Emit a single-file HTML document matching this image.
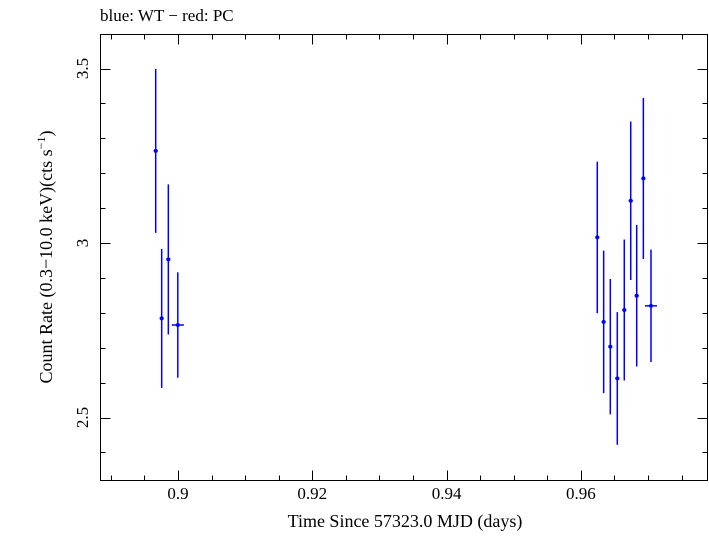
<!DOCTYPE html>
<html><head><meta charset="utf-8"><style>
body{margin:0;background:#fff;width:709px;height:532px;overflow:hidden}
text{font-family:"Liberation Serif",serif;fill:#000}
</style></head><body>
<svg id="c" width="709" height="532">
<text x="100" y="21" font-size="17">blue: WT − red: PC</text>
<rect x="100.5" y="34.5" width="607" height="446" fill="none" stroke="#000"/>
<text x="405" y="527" font-size="18" text-anchor="middle">Time Since 57323.0 MJD (days)</text>
<text transform="translate(52,257) rotate(-90)" font-size="18" text-anchor="middle">Count Rate (0.3−10.0 keV)(cts s<tspan font-size="12" dy="-7">−1</tspan><tspan dy="7">)</tspan></text>
<g id="ax"></g><g id="pts"></g>
</svg>
<script>
const xTicks=[0.90,0.92,0.94,0.96];
const xTickLabels=["0.9","0.92","0.94","0.96"];
const yTicks=[2.5,3.0,3.5];
const yTickLabels=["2.5","3","3.5"];
const times=[0.89668,0.89757,0.89856,0.89997,0.96244,0.96339,0.96438,0.96542,0.96646,0.96742,0.96831,0.96930,0.97044];
const rates=[3.264,2.784,2.953,2.765,3.016,2.774,2.703,2.612,2.808,3.121,2.849,3.185,2.820];
const rateErr=[0.235,0.199,0.215,0.151,0.217,0.204,0.194,0.19,0.202,0.227,0.203,0.231,0.161];
const timeErr=[0.0003,0.0003,0.0003,0.0009,0.0003,0.0003,0.0003,0.0003,0.0003,0.0003,0.0003,0.0003,0.0009];
const L=100.5,R=707.5,T=34.5,B=480.5;
const X=v=>178+(v-0.9)*6715;
const Y=v=>243-(v-3)*349;
const NS="http://www.w3.org/2000/svg";
const ax=document.getElementById('ax'),pts=document.getElementById('pts');
function ln(p,x1,y1,x2,y2,c,w,name){const l=document.createElementNS(NS,'line');
l.setAttribute('x1',x1);l.setAttribute('y1',y1);l.setAttribute('x2',x2);l.setAttribute('y2',y2);
l.setAttribute('stroke',c);l.setAttribute('stroke-width',w);


p.appendChild(l);}
function tx(x,y,s,anchor,name,rot){const t=document.createElementNS(NS,'text');
t.setAttribute('x',x);t.setAttribute('y',y);t.setAttribute('font-size','17');t.setAttribute('text-anchor',anchor);
if(rot)t.setAttribute('transform','rotate(-90 '+x+' '+y+')');t.textContent=s;


ax.appendChild(t);}
for(let v=0.89;v<=0.9751;v+=0.005){const x=Math.round(X(v))+0.5;if(x<L||x>R)continue;
const major=Math.abs(v*100-Math.round(v*100))<1e-6&&Math.round(v*100)%2===0;const h=major?10:5;
ln(ax,x,B,x,B-h,'#000',1,'x-tick');ln(ax,x,T,x,T+h,'#000',1,'x-tick-top');}
xTicks.forEach((v,i)=>tx(X(v),499,xTickLabels[i],'middle','x-tick-label'));
for(let k=24;k<=36;k++){const v=k/10;const y=Math.round(Y(v))+0.5;if(y<T||y>B)continue;
const h=(k%5===0)?10:5;ln(ax,L,y,L+h,y,'#000',1,'y-tick');ln(ax,R,y,R-h,y,'#000',1,'y-tick-right');}
yTicks.forEach((v,i)=>tx(88,Y(v),yTickLabels[i],'middle','y-tick-label',true));
times.forEach((t,i)=>{const x=X(t),y=Y(rates[i]);
ln(pts,x,Y(rates[i]+rateErr[i]),x,Y(rates[i]-rateErr[i]),'#0000ff',1.5,'error-bar');
ln(pts,X(t-timeErr[i]),y,X(t+timeErr[i]),y,'#0000ff',1.5,'time-bin');
const c=document.createElementNS(NS,'circle');c.setAttribute('cx',x);c.setAttribute('cy',y);c.setAttribute('r',2);c.setAttribute('fill','#0000ff');


pts.appendChild(c);});
</script>
</body></html>
